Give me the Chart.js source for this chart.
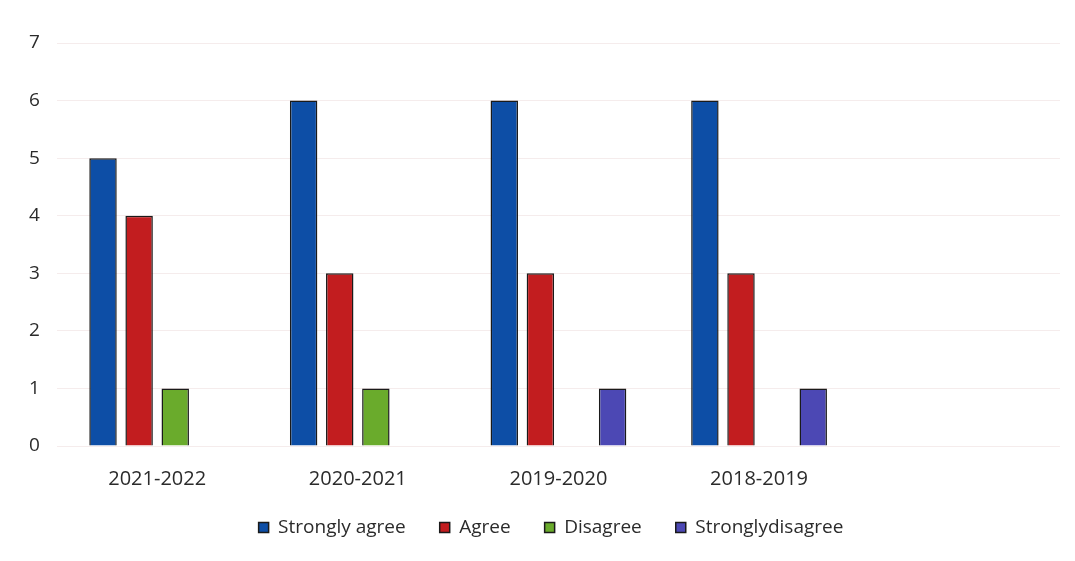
<!DOCTYPE html>
<html>
<head>
<meta charset="utf-8">
<script src="https://cdn.jsdelivr.net/npm/chart.js@4/dist/chart.umd.min.js"></script>
<style>
  html, body { margin: 0; padding: 0; background: #fff; }
  #wrap { width: 1075px; height: 561px; position: relative; }
</style>
</head>
<body>
<div id="wrap"><canvas id="surveyChart"></canvas></div>
<script>
// years (last slot is empty in the original)
var years = ['2021-2022', '2020-2021', '2019-2020', '2018-2019', ''];
var stronglyAgree = [5, 6, 6, 6, null];
var agree = [4, 3, 3, 3, null];
var disagree = [1, 1, null, null, null];
var stronglyDisagree = [null, null, 1, 1, null];
var yTicks = [0, 1, 2, 3, 4, 5, 6, 7];

var font = "'Open Sans', 'Liberation Sans', sans-serif";

// legend gets wide gaps between items, but that padding also adds height,
// so reserve less room for it and put it back in place after layout
var legendTweak = {
    id: 'legendTweak',
    beforeUpdate: function (chart) {
        var lg = chart.legend;
        if (lg && !lg._trimmed) {
            var fit = lg.fit;
            lg.fit = function () {
                fit.call(this);
                this.height -= 12;
            };
            lg._trimmed = true;
        }
    },
    afterLayout: function (chart) {
        var lg = chart.legend;
        lg.height += 12;
        lg.top -= 20;
        lg.bottom = lg.top + lg.height;
        lg.left += 15;
        lg.right += 15;
    }
};

var ctx = document.getElementById('surveyChart').getContext('2d');
var chart = new Chart(ctx, {
    type: 'bar',
    data: {
        labels: years,
        datasets: [
            { label: 'Strongly agree', data: stronglyAgree, backgroundColor: '#0d4ea6' },
            { label: 'Agree', data: agree, backgroundColor: '#c21d1f' },
            { label: 'Disagree', data: disagree, backgroundColor: '#6aab2c' },
            { label: 'Stronglydisagree', data: stronglyDisagree, backgroundColor: '#4c48b4' }
        ].map(function (d) {
            d.borderColor = '#1a1a1a';
            d.borderWidth = 1.5;
            d.categoryPercentage = 0.72;
            d.barPercentage = 0.76;
            return d;
        })
    },
    plugins: [legendTweak],
    options: {
        responsive: true,
        maintainAspectRatio: false,
        animation: false,
        layout: { padding: { left: 12, right: 15, top: 43, bottom: 6 } },
        plugins: {
            tooltip: { enabled: false },
            legend: {
                position: 'bottom',
                labels: {
                    boxWidth: 10,
                    boxHeight: 10,
                    padding: 34,
                    color: '#2b2b2b',
                    font: { family: font, size: 19 }
                }
            }
        },
        scales: {
            x: {
                grid: { display: false },
                border: { display: false },
                ticks: { color: '#2b2b2b', padding: 13, font: { family: font, size: 20 } }
            },
            y: {
                min: 0,
                max: 7,
                afterBuildTicks: function (axis) {
                    axis.ticks = yTicks.map(function (v) { return { value: v }; });
                },
                grid: { color: 'rgba(225, 200, 200, 0.35)', drawTicks: false },
                border: { display: false },
                ticks: { color: '#2b2b2b', padding: 17, font: { family: font, size: 19 } }
            }
        }
    }
});
</script>
</body>
</html>
